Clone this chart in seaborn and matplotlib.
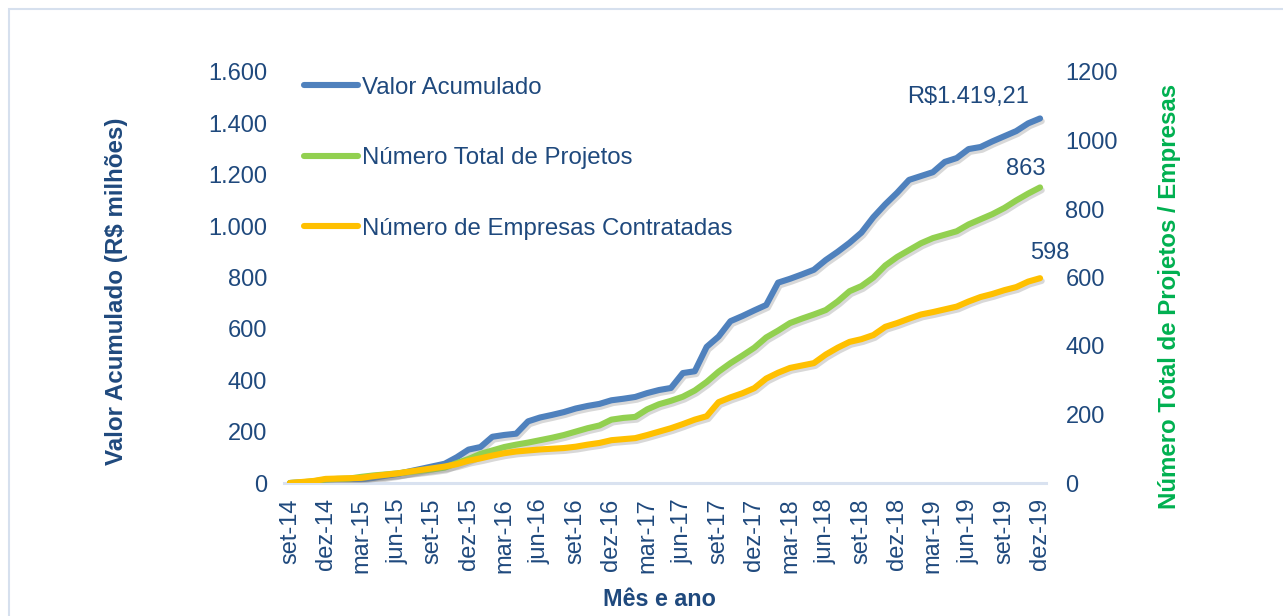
import numpy as np
import pandas as pd
import matplotlib
matplotlib.use("Agg")
import matplotlib.pyplot as plt
import matplotlib.patheffects as pe
from matplotlib.patches import Rectangle
import seaborn as sns

# ---- data ----
tick_labels = ["set-14", "dez-14", "mar-15", "jun-15", "set-15", "dez-15", "mar-16", "jun-16",
               "set-16", "dez-16", "mar-17", "jun-17", "set-17", "dez-17", "mar-18", "jun-18",
               "set-18", "dez-18", "mar-19", "jun-19", "set-19", "dez-19"]

valor_acumulado = [0, 2, 3, 5, 6, 8, 14, 20, 28, 35, 45, 55, 65, 75, 100, 130,
                   140, 180, 187, 192, 240, 255, 265, 276, 290, 300, 308, 322, 328, 335, 350, 362,
                   370, 428, 435, 530, 570, 630, 650, 672, 693, 780, 795, 812, 830, 868,
                   900, 935, 975, 1035, 1085, 1130, 1180, 1195, 1210, 1250, 1265, 1300,
                   1308, 1330, 1350, 1370, 1400, 1419.21]

num_projetos = [0, 2, 5, 10, 12, 13, 18, 22, 25, 28, 32, 36, 40, 45, 58, 70,
                85, 95, 105, 112, 118, 125, 132, 140, 150, 160, 168, 185, 190, 193, 215, 230,
                240, 252, 270, 295, 325, 350, 372, 395, 425, 445, 467, 480, 492, 505,
                530, 560, 575, 600, 635, 660, 680, 700, 715, 725, 735, 755,
                770, 785, 803, 825, 845, 863]

num_empresas = [0, 3, 6, 12, 13, 14, 15, 20, 24, 28, 33, 38, 43, 48, 55, 65,
                72, 80, 87, 92, 95, 98, 100, 102, 106, 112, 117, 125, 128, 131, 140, 150,
                160, 172, 185, 195, 236, 250, 262, 277, 305, 322, 336, 343, 350, 375,
                395, 412, 420, 432, 456, 467, 480, 492, 499, 507, 515, 530,
                543, 552, 563, 572, 588, 598]

month_idx = list(range(len(valor_acumulado)))

df = pd.DataFrame({"mes": month_idx, "valor": valor_acumulado,
                   "projetos": num_projetos, "empresas": num_empresas})

# ---- style ----
sns.set_theme(style="white")
plt.rcParams["font.family"] = ["Liberation Sans", "DejaVu Sans"]

NAVY = "#1F497D"
BLUE = "#4F81BD"
GREEN = "#92D050"
YELLOW = "#FFC000"
LABEL_GREEN = "#00B050"
FS = 17

fig = plt.figure(figsize=(12.83, 6.16), dpi=100)
ax = fig.add_axes([284 / 1283, 133 / 616, 762 / 1283, 411 / 616])
ax2 = ax.twinx()

shadow = [pe.SimpleLineShadow(offset=(1.2, -2.0), shadow_color="gray", alpha=0.3), pe.Normal()]
lw = 4.4

sns.lineplot(data=df, x="mes", y="valor", ax=ax, color=BLUE, linewidth=lw,
             label="Valor Acumulado", legend=False)
sns.lineplot(data=df, x="mes", y="projetos", ax=ax2, color=GREEN, linewidth=lw,
             label="Número Total de Projetos", legend=False)
sns.lineplot(data=df, x="mes", y="empresas", ax=ax2, color=YELLOW, linewidth=lw,
             label="Número de Empresas Contratadas", legend=False)
for a in (ax, ax2):
    for ln in a.get_lines():
        ln.set_path_effects(shadow)
        ln.set_solid_capstyle("round")

# ---- axes ----
ax.set_xlim(-0.5, len(month_idx) - 0.5)
ax.set_ylim(0, 1600)
ax2.set_ylim(0, 1200)

ax.set_xticks(month_idx[::3])
ax.set_xticklabels(tick_labels, rotation=90, fontsize=FS, color=NAVY)
left_ticks = np.arange(0, 1601, 200)
ax.set_yticks(left_ticks)
ax.set_yticklabels([f"{int(v):,}".replace(",", ".") for v in left_ticks], fontsize=FS, color=NAVY)
right_ticks = np.arange(0, 1201, 200)
ax2.set_yticks(right_ticks)
ax2.set_yticklabels([str(int(v)) for v in right_ticks], fontsize=FS, color=NAVY)

ax.tick_params(axis="x", length=0, pad=11)
ax.tick_params(axis="y", length=0, pad=12)
ax2.tick_params(axis="y", length=0, pad=14)

for a in (ax, ax2):
    for s in ("top", "left", "right"):
        a.spines[s].set_visible(False)
    a.spines["bottom"].set_color("#D9E2F0")
    a.spines["bottom"].set_linewidth(2.2)
    a.grid(False)
ax2.spines["bottom"].set_visible(False)

ax.set_xlabel("Mês e ano", fontsize=16.8, fontweight="bold", color=NAVY)
ax.xaxis.set_label_coords(0.493, -0.255)
ax.set_ylabel("Valor Acumulado (R$ milhões)", fontsize=17.4, fontweight="bold", color=NAVY)
ax.yaxis.set_label_coords(-0.205, 0.467)
ax2.set_ylabel("Número Total de Projetos / Empresas", fontsize=17.3, fontweight="bold",
               color=LABEL_GREEN, rotation=90)
ax2.yaxis.set_label_coords(1.147, 0.453)

# ---- annotations ----
ax.annotate("R$1.419,21", xy=(month_idx[-1], valor_acumulado[-1]), xytext=(-11, 21),
            textcoords="offset pixels", ha="right", va="center", fontsize=FS, color=NAVY)
ax2.annotate(f"{num_projetos[-1]}", xy=(month_idx[-1], num_projetos[-1]), xytext=(-14, 18),
             textcoords="offset pixels", ha="center", va="center", fontsize=FS, color=NAVY)
ax2.annotate(f"{num_empresas[-1]}", xy=(month_idx[-1], num_empresas[-1]), xytext=(10, 25),
             textcoords="offset pixels", ha="center", va="center", fontsize=FS, color=NAVY)

# ---- legend ----
handles = ax.get_lines()[:1] + ax2.get_lines()[:2]
labels = ["Valor Acumulado", "Número Total de Projetos", "Número de Empresas Contratadas"]
leg = ax.legend(handles, labels, loc="upper left", bbox_to_anchor=(0.013, 1.012), frameon=False,
                fontsize=17.3, labelcolor=NAVY, labelspacing=2.02, handlelength=2.25,
                handletextpad=0.2, borderaxespad=0)
for h in leg.legend_handles:
    h.set_linewidth(lw)
    h.set_path_effects([])

# ---- frame ----
fig.patches.append(Rectangle((9 / 1283, -0.1), 1.2, 1.1 - 9 / 616, transform=fig.transFigure,
                             fill=False, edgecolor="#D6E0EE", linewidth=1.5, zorder=0))

fig.savefig("out.png", dpi=100)
